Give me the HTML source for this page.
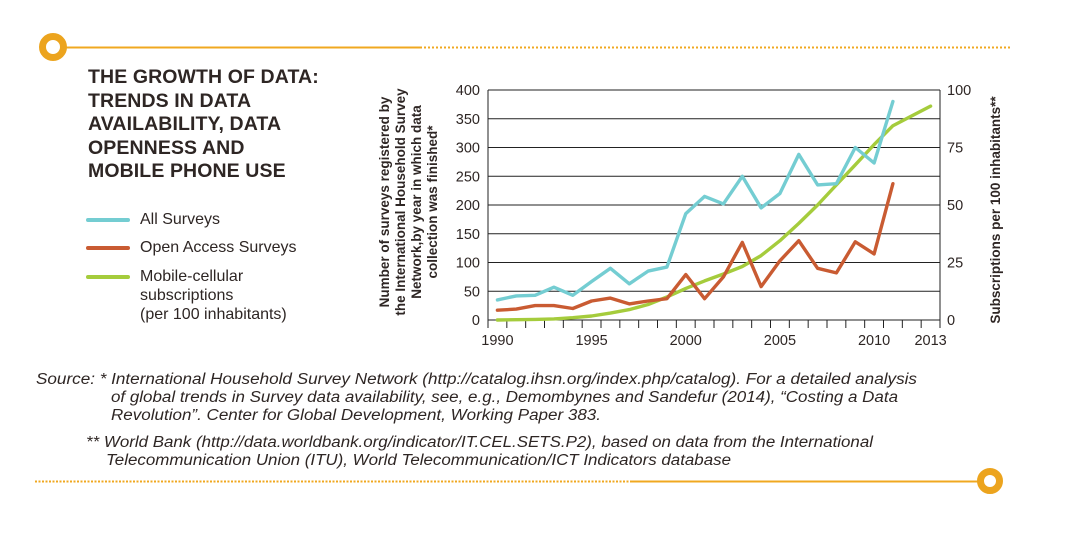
<!DOCTYPE html>
<html><head><meta charset="utf-8">
<style>
html,body{margin:0;padding:0;background:#fff;}
body{width:1070px;height:536px;position:relative;overflow:hidden;font-family:"Liberation Sans",sans-serif;}
.t{position:absolute;left:88px;top:66px;font-weight:bold;font-size:19.5px;line-height:23.6px;color:#2e2624;letter-spacing:0.1px;}
.lg{position:absolute;left:140px;font-size:16px;color:#2e2624;line-height:19px;}
.sw{position:absolute;left:86px;width:44px;height:4px;border-radius:2px;}
</style></head><body>
<svg width="1070" height="536" style="position:absolute;left:0;top:0">
<line x1="66" y1="47.5" x2="420" y2="47.5" stroke="#f0a820" stroke-width="2"/>
<line x1="420" y1="47.5" x2="1010" y2="47.5" stroke="#f0a820" stroke-width="2" stroke-dasharray="2,2"/>
<circle cx="53" cy="47" r="10.5" fill="#fff" stroke="#eca41e" stroke-width="7"/>
<line x1="35" y1="481.5" x2="630" y2="481.5" stroke="#f0a820" stroke-width="2" stroke-dasharray="2,1.5"/>
<line x1="630" y1="481.5" x2="980" y2="481.5" stroke="#f0a820" stroke-width="2"/>
<circle cx="990" cy="481" r="9.5" fill="#fff" stroke="#eca41e" stroke-width="7"/>
<g id="ch"></g>
<text transform="translate(389,202) rotate(-90)" text-anchor="middle" font-family="Liberation Sans" font-weight="bold" font-size="13.5" fill="#2e2624"><tspan x="0" y="0">Number of surveys registered by</tspan><tspan x="0" y="16">the International Household Survey</tspan><tspan x="0" y="32">Network,by  year in which data</tspan><tspan x="0" y="48">collection was finished*</tspan></text>
<text transform="translate(1000,210) rotate(-90)" text-anchor="middle" font-family="Liberation Sans" font-weight="bold" font-size="13.5" fill="#2e2624">Subscriptions per 100 inhabitants**</text>
<g font-family="Liberation Sans" font-style="italic" font-size="15.5" fill="#2e2624">
<text x="36" y="384" textLength="881" lengthAdjust="spacingAndGlyphs">Source: * International Household Survey Network (http://catalog.ihsn.org/index.php/catalog). For a detailed analysis</text>
<text x="111" y="402" textLength="787" lengthAdjust="spacingAndGlyphs">of global trends in Survey data availability, see, e.g., Demombynes and Sandefur (2014), “Costing a Data</text>
<text x="111" y="420" textLength="490" lengthAdjust="spacingAndGlyphs">Revolution”. Center for Global Development, Working Paper 383.</text>
<text x="86" y="447" textLength="787" lengthAdjust="spacingAndGlyphs">** World Bank (http://data.worldbank.org/indicator/IT.CEL.SETS.P2), based on data from the International</text>
<text x="106" y="465" textLength="625" lengthAdjust="spacingAndGlyphs">Telecommunication Union (ITU), World Telecommunication/ICT Indicators database</text>
</g>
</svg>
<div class="t">THE GROWTH OF DATA:<br>TRENDS IN DATA<br>AVAILABILITY, DATA<br>OPENNESS AND<br>MOBILE PHONE USE</div>
<div class="sw" style="top:218px;background:#74cdd2"></div><div class="lg" style="top:210px">All Surveys</div>
<div class="sw" style="top:246px;background:#c95b32"></div><div class="lg" style="top:238px">Open Access Surveys</div>
<div class="sw" style="top:275px;background:#a5cc3c"></div><div class="lg" style="top:267px">Mobile-cellular<br>subscriptions<br>(per 100 inhabitants)</div>
<script>
var g=document.getElementById('ch'),s='';
var L=488,R=940,y0=320,k=230/400;
function X(yr){return L+(yr-1989.5)*(R-L)/24;}
function Y(v){return y0-v*k;}
for(var v=0;v<=400;v+=50){var y=Y(v);
 s+='<line x1="'+L+'" y1="'+y+'" x2="'+R+'" y2="'+y+'" stroke="#222" stroke-width="1"/>';
 s+='<text x="480" y="'+(y+5)+'" text-anchor="end" font-size="14.5" fill="#2e2624" font-family="Liberation Sans">'+v+'</text>';
 s+='<text x="947" y="'+(y+5)+'" font-size="14.5" fill="#2e2624" font-family="Liberation Sans" visibility="'+(v%100==0?'visible':'hidden')+'">'+(v/4)+'</text>';}
s+='<line x1="'+L+'" y1="90" x2="'+L+'" y2="'+(y0+8)+'" stroke="#222"/>';
s+='<line x1="'+R+'" y1="90" x2="'+R+'" y2="'+(y0+8)+'" stroke="#222"/>';
for(var yr=1990;yr<=2013;yr++){var x=X(yr+0.5);if(yr<2013)s+='<line x1="'+x+'" y1="'+y0+'" x2="'+x+'" y2="'+(y0+8)+'" stroke="#222"/>';}
[1990,1995,2000,2005,2010,2013].forEach(function(yr){s+='<text x="'+X(yr)+'" y="345" text-anchor="middle" font-size="14.5" fill="#2e2624" font-family="Liberation Sans">'+yr+'</text>';});
function line(d,c){var p=d.map(function(v,i){return X(1990+i).toFixed(1)+','+Y(v).toFixed(1)}).join(' ');
 s+='<polyline points="'+p+'" fill="none" stroke="'+c+'" stroke-width="3.4" stroke-linejoin="round" stroke-linecap="round"/>';}
line([0,0.5,1,2,4,7,12,18,27,40,55,68,80,93,112,138,168,200,235,270,305,338,355,372],'#a5cc3c');
line([17,19,25,25,20,33,38,28,33,37,79,37,75,135,58,103,138,90,82,136,115,237],'#c95b32');
line([35,42,43,57,43,67,90,63,85,92,185,215,202,250,195,220,288,235,237,300,273,380],'#74cdd2');
g.innerHTML=s;
</script>
</body></html>
